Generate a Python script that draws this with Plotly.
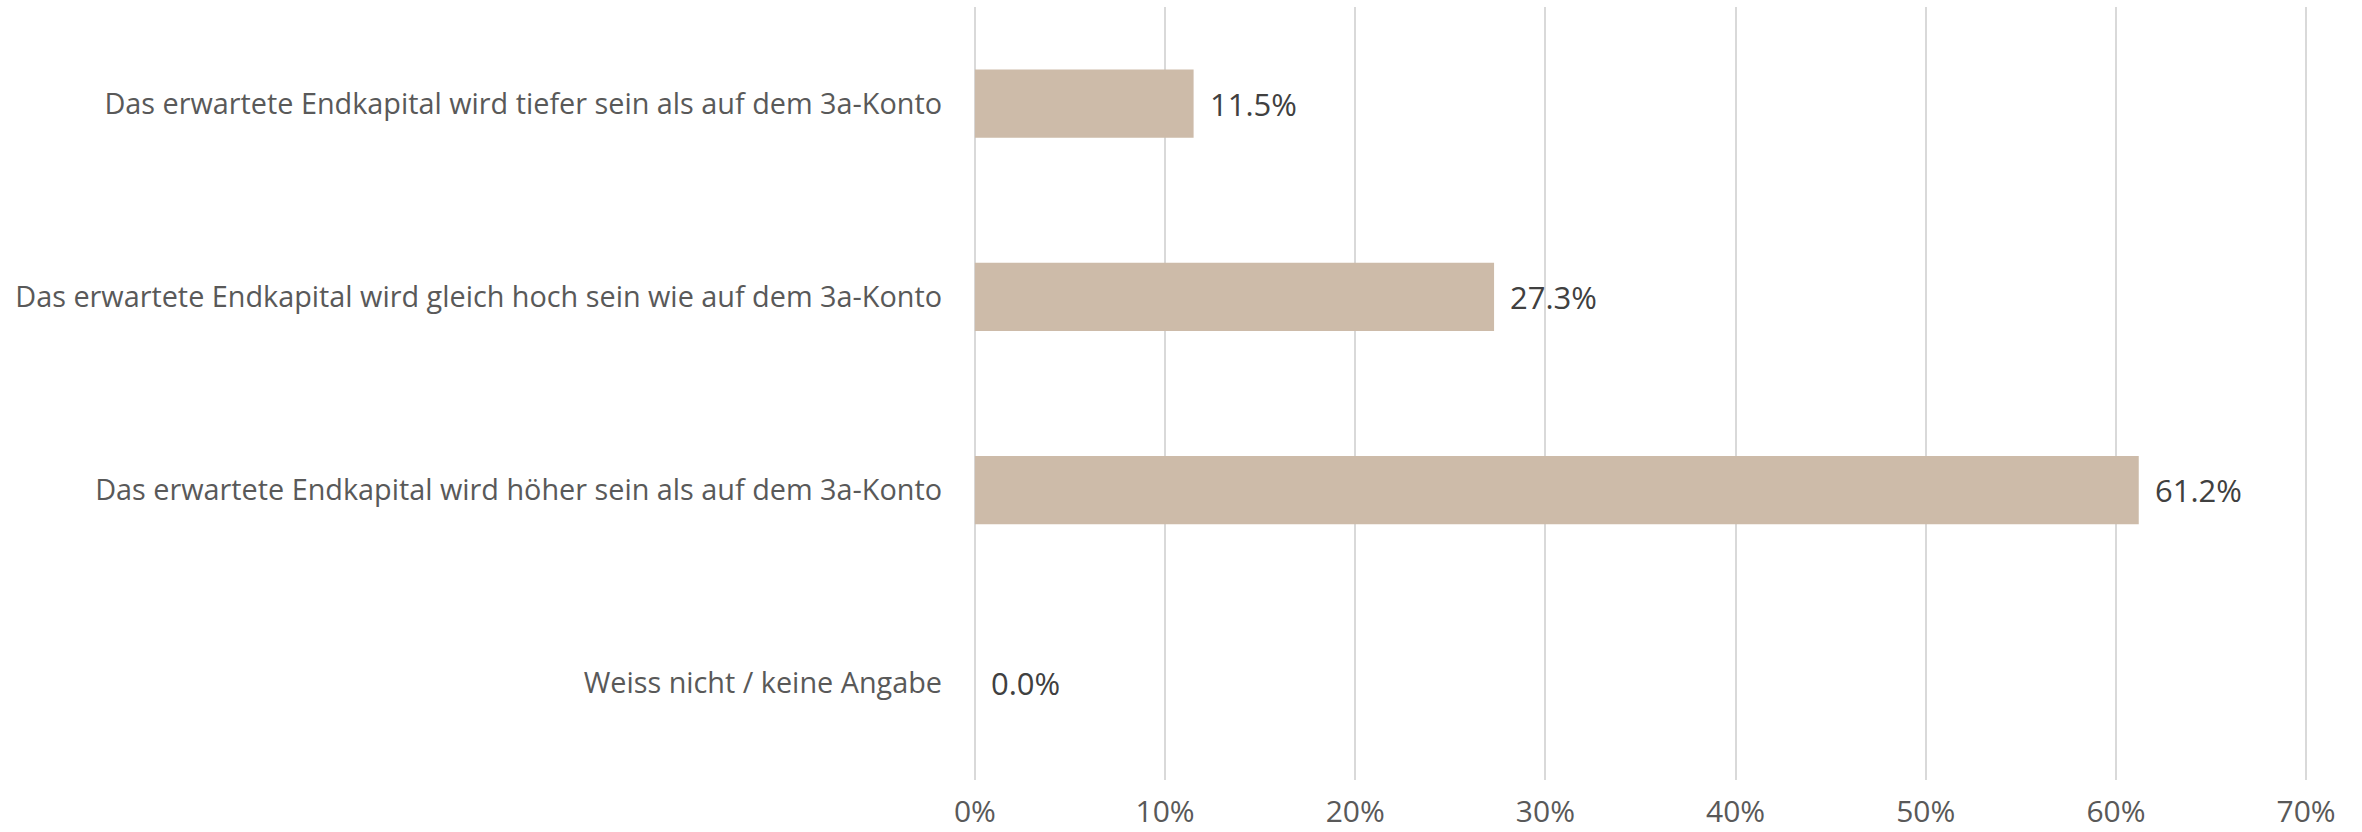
import plotly.graph_objects as go

categories = [
    "Das erwartete Endkapital wird tiefer sein als auf dem 3a-Konto",
    "Das erwartete Endkapital wird gleich hoch sein wie auf dem 3a-Konto",
    "Das erwartete Endkapital wird höher sein als auf dem 3a-Konto",
    "Weiss nicht / keine Angabe",
]
values = [11.5, 27.3, 61.2, 0.0]
tick_vals = [0, 10, 20, 30, 40, 50, 60, 70]
tick_text = ["0%", "10%", "20%", "30%", "40%", "50%", "60%", "70%"]

FONT = "Open Sans"

fig = go.Figure(
    go.Bar(
        x=values,
        y=categories,
        orientation="h",
        marker=dict(color="#CDBBA9", line=dict(width=0)),
        hoverinfo="x+y",
    )
)

for cat, v in zip(categories, values):
    fig.add_annotation(
        x=v,
        y=cat,
        text=f"{v:.1f}%",
        showarrow=False,
        xanchor="left",
        yanchor="middle",
        xshift=14,
        font=dict(family=FONT, size=31, color="#404040"),
    )

fig.update_layout(
    width=2362,
    height=832,
    margin=dict(l=973, r=54, t=7, b=52, autoexpand=False),
    paper_bgcolor="white",
    plot_bgcolor="white",
    bargap=0.648,
    showlegend=False,
    font=dict(family=FONT, size=28.8, color="#595959"),
)
fig.update_xaxes(
    range=[-0.1, 70.1],
    tickvals=tick_vals,
    ticktext=tick_text,
    showgrid=True,
    gridcolor="#D9D9D9",
    gridwidth=2,
    zeroline=False,
    showline=False,
    ticks="",
    automargin=False,
    ticklabelstandoff=11,
    tickfont=dict(family=FONT, size=30, color="#595959"),
)
fig.update_yaxes(
    autorange="reversed",
    showgrid=False,
    showline=False,
    zeroline=False,
    ticks="",
    automargin=False,
    ticklabelstandoff=30,
    tickfont=dict(family=FONT, size=28.8, color="#595959"),
)

fig.write_html(
    "out.html",
    config={"displayModeBar": False},
    post_script="document.body.style.margin='0px';document.body.style.overflow='hidden';",
)
